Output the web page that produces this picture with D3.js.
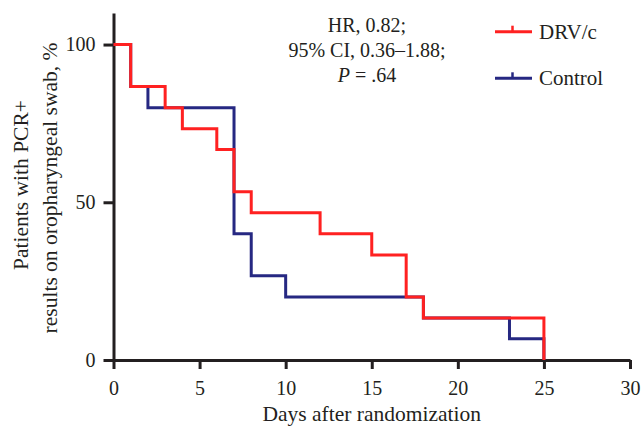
<!DOCTYPE html>
<html>
<head>
<meta charset="utf-8">
<script src="https://cdn.jsdelivr.net/npm/d3@7"></script>
<style>
  body { margin: 0; background: #fff; }
  .axis path, .axis line { stroke: #231f20; stroke-width: 3; }
</style>
</head>
<body>
<svg id="chart" width="642" height="431"></svg>
<script>
// Kaplan-Meier steps
const drvDays = [0, 1, 3, 4, 6, 7, 8, 12, 15, 17, 18, 25]
const drvPct = [100, 86.7, 80, 73.3, 66.7, 53.3, 46.7, 40, 33.3, 20, 13.3, 0]
const ctrlDays = [0, 1, 2, 7, 8, 10, 18, 23, 25]
const ctrlPct = [100, 86.7, 80, 40, 26.7, 20, 13.3, 6.7, 0]

const xTicks = [0, 5, 10, 15, 20, 25, 30]
const yTicks = [0, 50, 100]
const statsLines = ["HR, 0.82;", "95% CI, 0.36\u20131.88;"]
const legendNames = ["DRV/c", "Control"]
const colors = ["#ff2121", "#262882"]

const serif = "'Liberation Serif', 'Times New Roman', serif"
const ink = "#231f20"

const svg = d3.select("#chart")

let x = d3.scaleLinear().domain([0, 30]).range([113.5, 630])
let y = d3.scaleLinear().domain([0, 110]).range([360, 13])

let xAxis = svg.append("g")
    .attr("class", "x axis")
    .attr("transform", "translate(0,360)")
    .call(d3.axisBottom(x).tickValues(xTicks).tickSize(9).tickSizeOuter(0).tickPadding(12))

let yAxis = svg.append("g")
    .attr("class", "y axis")
    .attr("transform", "translate(113.5,0)")
    .call(d3.axisLeft(y).tickValues(yTicks).tickSize(10).tickSizeOuter(0).tickPadding(8))

// serif tick labels like the journal figure
svg.selectAll(".axis").attr("font-family", serif).attr("font-size", 20)
svg.selectAll(".axis text").attr("fill", ink).attr("font-family", serif)

let line = d3.line()
    .x(d => x(d[0]))
    .y(d => y(d[1]))
    .curve(d3.curveStepAfter)

let ctrl = ctrlDays.map((d, i) => [d, ctrlPct[i]])
let drv = drvDays.map((d, i) => [d, drvPct[i]])

svg.append("path")
    .datum(ctrl)
    .attr("d", line)
    .attr("fill", "none")
    .attr("stroke", colors[1])
    .attr("stroke-width", 3)

svg.append("path")
    .datum(drv)
    .attr("d", line)
    .attr("fill", "none")
    .attr("stroke", colors[0])
    .attr("stroke-width", 3)

function label(sel, size) {
    return sel.attr("font-family", serif).attr("font-size", size).attr("fill", ink)
}

// axis titles
label(svg.append("text"), 21.5)
    .attr("x", x(15))
    .attr("y", 421)
    .attr("text-anchor", "middle")
    .text("Days after randomization")

label(svg.append("text"), 21.5)
    .attr("transform", "translate(28,185) rotate(-90)")
    .attr("text-anchor", "middle")
    .text("Patients with PCR+")

label(svg.append("text"), 21.5)
    .attr("transform", "translate(57,188) rotate(-90)")
    .attr("text-anchor", "middle")
    .text("results on oropharyngeal swab, %")

// statistics note
statsLines.forEach((s, i) => {
    label(svg.append("text"), 20)
        .attr("x", 367)
        .attr("y", 31.5 + i * 25)
        .attr("text-anchor", "middle")
        .text(s)
})
let p = label(svg.append("text"), 20)
    .attr("x", 367)
    .attr("y", 81.5)
    .attr("text-anchor", "middle")
p.append("tspan").attr("font-style", "italic").text("P")
p.append("tspan").text(" = .64")

// legend
legendNames.forEach((name, i) => {
    let ly = 31.7 + i * 46.6
    let g = svg.append("g")
    g.append("line")
        .attr("x1", 495).attr("x2", 532)
        .attr("y1", ly).attr("y2", ly)
        .attr("stroke", colors[i]).attr("stroke-width", 3)
    g.append("line")
        .attr("x1", 512.5).attr("x2", 512.5)
        .attr("y1", ly).attr("y2", ly - 6)
        .attr("stroke", colors[i]).attr("stroke-width", 2.5)
    label(g.append("text"), 21)
        .attr("x", 539)
        .attr("y", ly + 7)
        .text(name)
})
</script>
</body>
</html>
